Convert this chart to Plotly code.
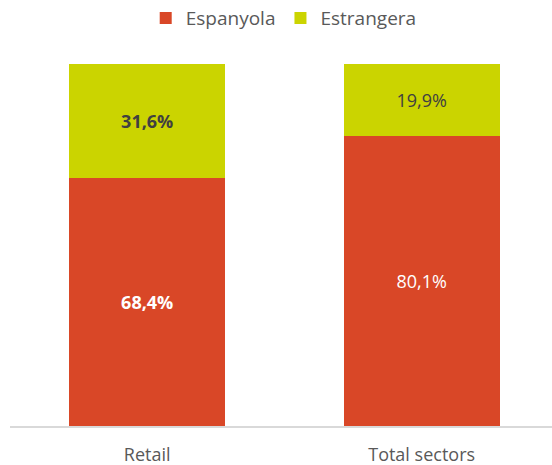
import plotly.graph_objects as go

categories = ["Retail", "Total sectors"]
espanyola = [68.4, 80.1]
estrangera = [31.6, 19.9]
label_bold = [True, False]

def fmt(v, bold):
    s = f"{v:.1f}".replace(".", ",") + "%"
    return f"<b>{s}</b>" if bold else s

FONT = "Open Sans, sans-serif"

fig = go.Figure()
fig.add_trace(go.Bar(
    name="Espanyola", x=categories, y=espanyola,
    marker=dict(color="#D94727", line=dict(width=0)),
    text=[fmt(v, b) for v, b in zip(espanyola, label_bold)],
    textposition="inside", insidetextanchor="middle",
    textfont=dict(color="white", size=18, family=FONT),
    hoverinfo="skip",
))
fig.add_trace(go.Bar(
    name="Estrangera", x=categories, y=estrangera,
    marker=dict(color="#CBD400", line=dict(width=0)),
    text=[fmt(v, b) for v, b in zip(estrangera, label_bold)],
    textposition="inside", insidetextanchor="middle",
    textfont=dict(color="#404040", size=18, family=FONT),
    hoverinfo="skip",
))

fig.update_layout(
    barmode="stack",
    bargap=0.432,
    width=552, height=465,
    margin=dict(l=10, r=0, t=64, b=39, autoexpand=False),
    plot_bgcolor="white", paper_bgcolor="white",
    font=dict(family=FONT, color="#595959", size=18),
    legend=dict(orientation="h", x=0.505, xanchor="center", y=1.127, yanchor="middle",
                font=dict(size=19, color="#595959"), itemwidth=30,
                traceorder="normal"),
    showlegend=True,
)
fig.update_xaxes(showline=True, linecolor="#D9D9D9", linewidth=1.5,
                 ticks="", ticklabelstandoff=12,
                 tickfont=dict(size=18, color="#595959"), range=[-0.5, 1.475])
fig.update_yaxes(visible=False, range=[0, 100], showgrid=False)

fig.write_html("out.html",
               config={"displayModeBar": False, "staticPlot": True},
               post_script="document.body.style.margin='0';document.body.style.overflow='hidden';")
